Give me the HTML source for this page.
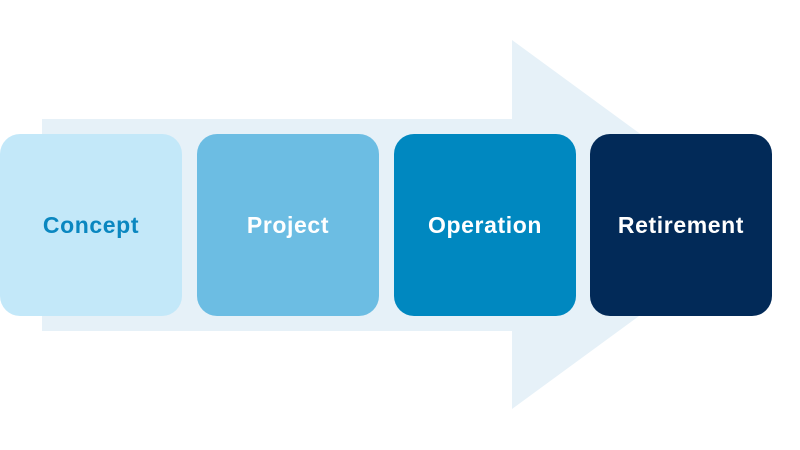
<!DOCTYPE html>
<html>
<head>
<meta charset="utf-8">
<style>
  html,body{margin:0;padding:0;background:#ffffff;}
  body{width:800px;height:450px;overflow:hidden;}
  svg{display:block;}
  text{font-family:"Liberation Sans", sans-serif;font-weight:bold;font-size:23px;letter-spacing:0.6px;}
</style>
</head>
<body>
<svg width="800" height="450" viewBox="0 0 800 450" xmlns="http://www.w3.org/2000/svg">
  <polygon points="42,119 512,119 512,40 764,224.5 512,409 512,331 42,331" fill="#e6f1f8"/>
  <rect x="0" y="134" width="182" height="182" rx="20" ry="20" fill="#c3e8f9"/>
  <rect x="197" y="134" width="182" height="182" rx="20" ry="20" fill="#6cbde3"/>
  <rect x="394" y="134" width="182" height="182" rx="20" ry="20" fill="#0088c0"/>
  <rect x="590" y="134" width="182" height="182" rx="20" ry="20" fill="#022a58"/>
  <text x="91" y="233" text-anchor="middle" fill="#0a87c0">Concept</text>
  <text x="288" y="233" text-anchor="middle" fill="#ffffff">Project</text>
  <text x="485" y="233" text-anchor="middle" fill="#ffffff">Operation</text>
  <text x="681" y="233" text-anchor="middle" fill="#ffffff">Retirement</text>
</svg>
</body>
</html>
